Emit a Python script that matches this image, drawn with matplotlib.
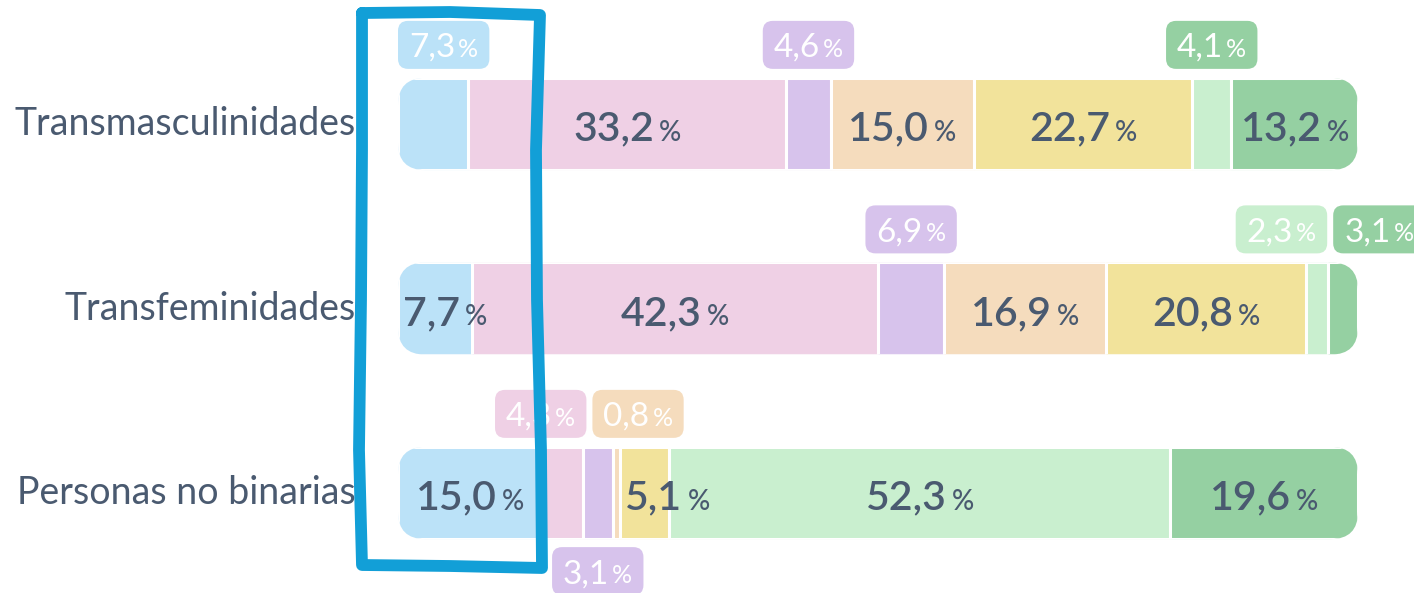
import matplotlib
matplotlib.use('Agg')
import matplotlib.pyplot as plt
from matplotlib.patches import FancyBboxPatch
from matplotlib.transforms import IdentityTransform
from matplotlib.lines import Line2D
import numpy as np

# ---------------- data ----------------
categories = ['Transmasculinidades', 'Transfeminidades', 'Personas no binarias']
transmasculinidades = [7.3, 33.2, 4.6, 15.0, 22.7, 4.1, 13.2]
transfeminidades = [7.7, 42.3, 6.9, 16.9, 20.8, 2.3, 3.1]
no_binarias = [15.0, 4.3, 3.1, 0.8, 5.1, 52.3, 19.6]
rows = [transmasculinidades, transfeminidades, no_binarias]

# ---------------- style ----------------
colors = ['#BBE2F8', '#EFD0E5', '#D7C3EC', '#F5DCBD', '#F2E39B', '#C9EFCF', '#95D0A2']
placement = [
    ['up', 'in', 'up', 'in', 'in', 'up', 'in'],
    ['inl', 'in', 'up', 'in', 'in', 'up', 'up'],
    ['in', 'up', 'down', 'up', 'inl', 'in', 'in'],
]
box_color_override = {(0, 5): colors[6]}
TXT = '#4A5A70'
HL = '#129FD7'
FONT = 'Lato'
NUM_SIZE, PCT_SIZE = 29.5, 20
BOX_NUM, BOX_PCT = 24, 18
CAT_SIZE = 27

W, H = 1414, 593
fig = plt.figure(figsize=(W / 100, H / 100), dpi=100)
fig.patch.set_facecolor('white')
ax = fig.add_axes([398 / W, 0, 960 / W, 1])
ax.set_xlim(0, 100)
top_px, gap_px = 124, 184.5
ax.set_ylim((H - top_px) / gap_px, -top_px / gap_px)
ax.axis('off')

BAR_H = 0.5
segs = []
for i, vals in enumerate(rows):
    tot = sum(vals)
    w = np.array(vals) / tot * 100
    lefts = np.concatenate([[0], np.cumsum(w)[:-1]])
    clip = FancyBboxPatch((0, i - BAR_H / 2), 100, BAR_H,
                          boxstyle="round,pad=0,rounding_size=2.85",
                          mutation_aspect=0.052, fc='none', ec='none')
    ax.add_patch(clip)
    bars = ax.barh([i] * len(vals), w, left=lefts, height=BAR_H, color=colors,
                   edgecolor='white', linewidth=2.2)
    for b in bars:
        b.set_clip_path(clip)
    segs.append((lefts, w))

fig.canvas.draw()
r = fig.canvas.get_renderer()


def twidth(s, size, weight='normal'):
    t = fig.text(0, 0, s, fontsize=size, family=FONT, weight=weight)
    bb = t.get_window_extent(r)
    t.remove()
    return bb.width


def fmt(v):
    return f"{v:.1f}".replace('.', ',')


def draw_group(x0, yc, num, nsize, psize, color, nweight, pweight, gap):
    pt = 100 / 72
    base = yc - 0.36 * nsize * pt
    w1 = twidth(num, nsize, nweight)
    fig.text(x0, base, num, transform=IdentityTransform(), fontsize=nsize,
             family=FONT, weight=nweight, color=color, ha='left', va='baseline', zorder=6)
    fig.text(x0 + w1 + gap, base, '%', transform=IdentityTransform(), fontsize=psize,
             family=FONT, weight=pweight, color=color, ha='left', va='baseline', zorder=6)


GAP_T = 5
GAP_B = 3
boxes = {}
for i, vals in enumerate(rows):
    lefts, w = segs[i]
    yc = ax.transData.transform((0, i))[1]
    bar_left = ax.transData.transform((0, i))[0]
    for j, v in enumerate(vals):
        mode = placement[i][j]
        sx0 = ax.transData.transform((lefts[j], i))[0]
        sx1 = ax.transData.transform((lefts[j] + w[j], i))[0]
        cx = (sx0 + sx1) / 2
        num = fmt(v)
        if mode in ('in', 'inl'):
            tw = twidth(num, NUM_SIZE, 'semibold') + GAP_T + twidth('%', PCT_SIZE, 'medium')
            x0 = cx - tw / 2 if mode == 'in' else sx0 + 5
            draw_group(x0, yc - 2, num, NUM_SIZE, PCT_SIZE, TXT, 'semibold', 'medium', GAP_T)
        else:
            tw = twidth(num, BOX_NUM) + GAP_B + twidth('%', BOX_PCT)
            bw = tw + 22
            boxes.setdefault((i, mode), []).append(
                dict(c=cx, w=bw, tw=tw, num=num,
                     color=box_color_override.get((i, j), colors[j]),
                     yc=yc, left=bar_left))

BOX_HT = 48
for (i, mode), lst in boxes.items():
    lst.sort(key=lambda d: d['c'])
    for _ in range(20):
        for d in lst:
            d['c'] = max(d['c'], d['left'] + d['w'] / 2)
        for a, b in zip(lst[:-1], lst[1:]):
            ov = (a['c'] + a['w'] / 2 + 6) - (b['c'] - b['w'] / 2)
            if ov > 0:
                a['c'] -= ov / 2
                b['c'] += ov / 2
    for d in lst:
        half = BAR_H / 2 * gap_px
        if mode == 'up':
            y0 = d['yc'] + half + 9
        else:
            y0 = d['yc'] - half - 8 - BOX_HT
        p = FancyBboxPatch((d['c'] - d['w'] / 2, y0), d['w'], BOX_HT,
                           boxstyle="round,pad=0,rounding_size=10",
                           transform=IdentityTransform(), fc=d['color'], ec='none', zorder=5)
        fig.add_artist(p)
        draw_group(d['c'] - d['tw'] / 2, y0 + BOX_HT / 2, d['num'], BOX_NUM, BOX_PCT,
                   'white', 'normal', 'normal', GAP_B)

# category labels
for i, cat in enumerate(categories):
    yc = ax.transData.transform((0, i))[1]
    fig.text(356, yc, cat, transform=IdentityTransform(), fontsize=CAT_SIZE,
             family=FONT, color=TXT, ha='right', va='center', zorder=6)

# hand-drawn highlight
hx = [362, 450, 540, 536, 537, 541, 542, 450, 362, 359, 361, 362, 362]
hy = [13, 12, 15, 150, 300, 450, 568, 566, 565, 450, 300, 150, 13]
fig.add_artist(Line2D(hx, [H - y for y in hy], transform=IdentityTransform(),
                      color=HL, linewidth=8.5, solid_joinstyle='round',
                      solid_capstyle='round', zorder=10))

fig.savefig('out.png', dpi=100, facecolor='white')
